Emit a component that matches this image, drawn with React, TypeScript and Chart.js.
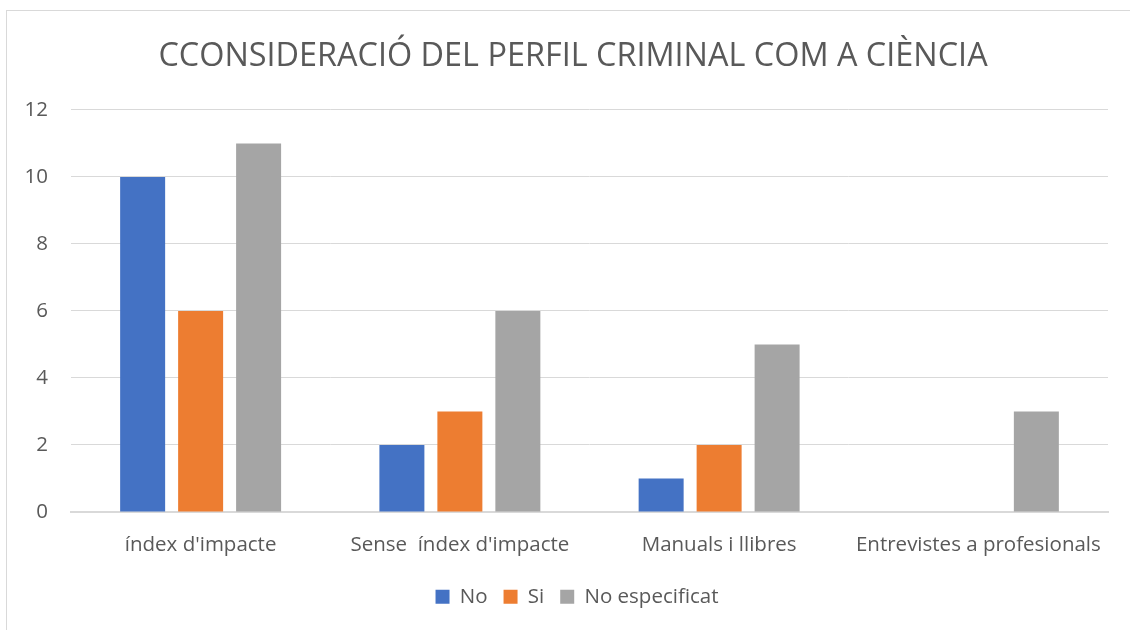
import React, { useEffect, useRef } from "react";
import { Chart, registerables } from "chart.js";

Chart.register(...registerables);

const categories = ["índex d'impacte", "Sense  índex d'impacte", "Manuals i llibres", "Entrevistes a profesionals"];
const noValues = [10, 2, 1, null];
const siValues = [6, 3, 2, null];
const noEspValues = [11, 6, 5, 3];
const seriesNames = ["No", "Si", "No especificat"];
const titleText = "CCONSIDERACIÓ DEL PERFIL CRIMINAL COM A CIÈNCIA";

const FONT = "'Open Sans', Lato, sans-serif";

const shiftBlocks = {
  id: "shiftBlocks",
  afterLayout(chart: any) {
    const t = chart.titleBlock;
    if (t) { t.left += 9; t.right += 9; }
    const l = chart.legend;
    if (l) { l.left += 13; l.right += 13; }
  },
};

export default function App() {
  const ref = useRef<HTMLCanvasElement | null>(null);
  useEffect(() => {
    if (!ref.current) return;
    const chart = new Chart(ref.current, {
      type: "bar",
      data: {
        labels: categories,
        datasets: [
          { label: seriesNames[0], data: noValues, backgroundColor: "#4472C4" },
          { label: seriesNames[1], data: siValues, backgroundColor: "#ED7D31" },
          { label: seriesNames[2], data: noEspValues, backgroundColor: "#A5A5A5" },
        ],
      },
      plugins: [shiftBlocks],
      options: {
        animation: false,
        responsive: false,
        maintainAspectRatio: false,
        layout: { padding: { left: 20, right: 22, top: 0, bottom: 13 } },
        datasets: { bar: { categoryPercentage: 0.671, barPercentage: 0.776 } },
        plugins: {
          title: {
            display: true,
            text: titleText,
            color: "#595959",
            font: { family: FONT, size: 32.4, weight: "normal" },
            padding: { top: 37, bottom: 34 },
          },
          legend: {
            position: "bottom",
            labels: {
              color: "#595959",
              font: { family: FONT, size: 20.5 },
              boxWidth: 14,
              boxHeight: 14,
              padding: 16,
            },
          },
          tooltip: { enabled: false },
        },
        scales: {
          x: {
            grid: { display: false },
            border: { display: true, color: "#d9d9d9", width: 2 },
            ticks: { color: "#595959", font: { family: FONT, size: 20.5 }, padding: 13 },
          },
          y: {
            min: 0,
            max: 12,
            ticks: { stepSize: 2, color: "#595959", font: { family: FONT, size: 20.5 }, padding: 23 },
            grid: { color: "#d9d9d9", drawTicks: false, lineWidth: 1 },
            border: { display: false },
            afterFit: (s: any) => { s.width = 51; },
          },
        },
      },
    });
    return () => chart.destroy();
  }, []);
  return (
    <div style={{ position: "absolute", left: 0, top: 0, width: 1130, height: 630, background: "#fff", overflow: "hidden" }}>
      <div style={{ position: "absolute", left: 6, top: 10, width: 1130, height: 630, border: "1px solid #d9d9d9", boxSizing: "border-box" }} />
      <canvas ref={ref} width={1130} height={630} style={{ position: "absolute", left: 0, top: 0 }} />
    </div>
  );
}
